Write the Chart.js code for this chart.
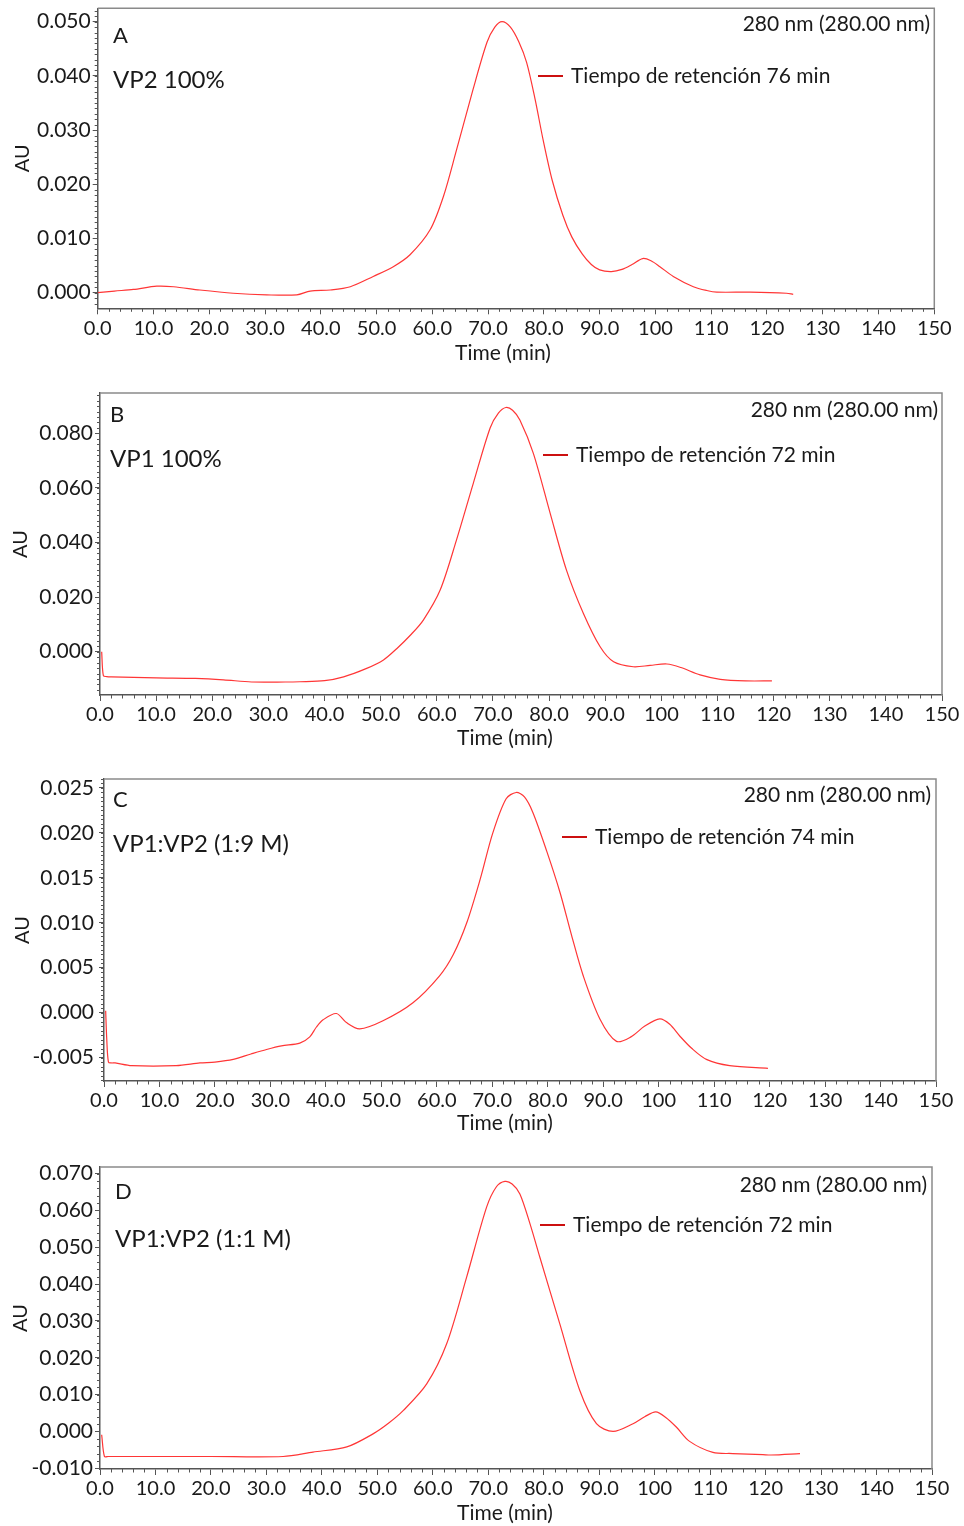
<!DOCTYPE html>
<html>
<head>
<meta charset="utf-8">
<script src="https://cdn.jsdelivr.net/npm/chart.js@4.4.1/dist/chart.umd.min.js"></script>
<style>
  body { margin: 0; background: #fff; width: 964px; height: 1526px; position: relative; overflow: hidden; }
  canvas { position: absolute; left: 0; }
</style>
</head>
<body>
<canvas id="chartA" width="964" height="386" style="top:0px"></canvas>
<canvas id="chartB" width="964" height="386" style="top:386px"></canvas>
<canvas id="chartC" width="964" height="386" style="top:772px"></canvas>
<canvas id="chartD" width="964" height="368" style="top:1158px"></canvas>
<script>
// --- Data (time in min, absorbance in AU, 280 nm) ---
const timeA = [0, 3, 6.4, 10.6, 13.6, 18.3, 24.3, 30.3, 35.7, 38.1, 41.7, 45.3, 49.4, 53, 56, 59.6, 62, 64.3, 67.3, 69.8, 71.2, 72.5, 74, 75.5, 76.9, 78.4, 79.9, 81.5, 83.4, 85, 86.9, 88.5, 90, 92.1, 94, 95.8, 97.7, 99.2, 100.8, 103.2, 106.8, 109.2, 111, 117, 123.5, 124.7];
const auA = [0, 0.0003, 0.0006, 0.0012, 0.0011, 0.0005, -0.0001, -0.0004, -0.0004, 0.0003, 0.0005, 0.0011, 0.0030, 0.0048, 0.0070, 0.0116, 0.0178, 0.0262, 0.0375, 0.0462, 0.0490, 0.0500, 0.0490, 0.0463, 0.0425, 0.0358, 0.0280, 0.0207, 0.0143, 0.0103, 0.0071, 0.0052, 0.0042, 0.0039, 0.0043, 0.0052, 0.0063, 0.0059, 0.0048, 0.0030, 0.0011, 0.0004, 0.0001, 0.0001, -0.0001, -0.0003];

const timeB = [0.3, 0.6, 1.2, 2, 10, 17, 22, 27, 33, 35.6, 40, 43.4, 47.5, 50.5, 52.9, 55.5, 57.6, 60.6, 63.5, 66.5, 69.5, 71, 72.3, 73.5, 74.8, 77.2, 80.2, 83.1, 86.1, 89.1, 91.5, 95, 98, 101, 103.5, 106.9, 110.5, 115, 119.7];
const auB = [0, -0.0088, -0.0091, -0.0092, -0.0096, -0.0098, -0.0103, -0.0111, -0.0111, -0.0110, -0.0106, -0.0092, -0.0061, -0.0030, 0.0012, 0.0065, 0.0116, 0.0226, 0.0409, 0.0617, 0.0820, 0.0875, 0.0895, 0.0885, 0.0849, 0.0727, 0.0507, 0.0299, 0.0141, 0.0018, -0.0037, -0.0055, -0.0050, -0.0045, -0.0058, -0.0085, -0.0101, -0.0107, -0.0107];

const timeC = [0.3, 0.5, 0.8, 1.3, 2, 5, 13, 17.3, 20, 23.3, 26.5, 29.3, 32, 35.3, 37.1, 38.3, 39.5, 41.9, 43.7, 46.1, 50.3, 55.7, 60.5, 63, 65.4, 67.8, 70.1, 72.5, 74.3, 75.8, 77.3, 79.8, 82.2, 84.3, 86.4, 89.4, 92.4, 95, 97.5, 100.2, 102, 103.8, 106, 108.6, 112.8, 119.7];
const auC = [0.0002, -0.0030, -0.0055, -0.0056, -0.0056, -0.0059, -0.0059, -0.0056, -0.0055, -0.0052, -0.0046, -0.0041, -0.0037, -0.0034, -0.0027, -0.0016, -0.0008, -0.0001, -0.0011, -0.0018, -0.0009, 0.0011, 0.0041, 0.0065, 0.0100, 0.0148, 0.0200, 0.0238, 0.0245, 0.0240, 0.0223, 0.0180, 0.0134, 0.0086, 0.0041, -0.0007, -0.0032, -0.0027, -0.0015, -0.0007, -0.0013, -0.0026, -0.0040, -0.0052, -0.0059, -0.0062];

const timeD = [0.3, 0.8, 1.5, 3, 10, 20, 33, 38.4, 44.5, 49.3, 52, 54.7, 58.9, 62.5, 66.1, 69.7, 71.5, 73, 74.3, 75.7, 77.5, 79.3, 82.9, 86.5, 89.5, 92.5, 96.1, 98.2, 100.2, 102, 103.9, 106.3, 110.5, 114.1, 119.5, 121, 126.2];
const auD = [-0.0009, -0.0068, -0.0068, -0.0068, -0.0068, -0.0068, -0.0068, -0.0056, -0.0042, -0.0006, 0.0022, 0.0057, 0.0129, 0.0238, 0.0419, 0.0609, 0.0665, 0.0679, 0.0672, 0.0645, 0.0565, 0.0473, 0.0292, 0.0111, 0.0021, 0.0000, 0.0021, 0.0040, 0.0053, 0.0038, 0.0012, -0.0027, -0.0057, -0.0060, -0.0063, -0.0064, -0.0060];

// --- Tick values and labels ---
const xTicks = [0, 10, 20, 30, 40, 50, 60, 70, 80, 90, 100, 110, 120, 130, 140, 150];
const xTickLabels = ['0.0', '10.0', '20.0', '30.0', '40.0', '50.0', '60.0', '70.0', '80.0', '90.0', '100', '110', '120', '130', '140', '150'];
const yTicksA = [0, 0.01, 0.02, 0.03, 0.04, 0.05];
const yLabelsA = ['0.000', '0.010', '0.020', '0.030', '0.040', '0.050'];
const yTicksB = [0, 0.02, 0.04, 0.06, 0.08];
const yLabelsB = ['0.000', '0.020', '0.040', '0.060', '0.080'];
const yTicksC = [-0.005, 0, 0.005, 0.01, 0.015, 0.02, 0.025];
const yLabelsC = ['-0.005', '0.000', '0.005', '0.010', '0.015', '0.020', '0.025'];
const yTicksD = [-0.01, 0, 0.01, 0.02, 0.03, 0.04, 0.05, 0.06, 0.07];
const yLabelsD = ['-0.010', '0.000', '0.010', '0.020', '0.030', '0.040', '0.050', '0.060', '0.070'];

const FONT = "Lato, 'Open Sans', sans-serif";
const TEXT = '#1a1a1a';
const AXIS = '#555555';

// draws frame, minor ticks, panel texts, x title and the legend entry
const panelDecor = {
    id: 'panelDecor',
    afterDraw(chart, args, o) {
        const { ctx, chartArea: a, scales: { x, y } } = chart;
        ctx.save();
        ctx.strokeStyle = '#8a8a8a';
        ctx.lineWidth = 1.5;
        ctx.beginPath();
        ctx.moveTo(a.left, a.top);
        ctx.lineTo(a.right, a.top);
        ctx.lineTo(a.right, a.bottom);
        ctx.stroke();

        ctx.strokeStyle = AXIS;
        ctx.lineWidth = 1;
        ctx.beginPath();
        for (let t = 0; t <= 150; t += 2) {
            if (t % 10 === 0) continue;
            const px = Math.round(x.getPixelForValue(t)) + 0.5;
            ctx.moveTo(px, a.bottom);
            ctx.lineTo(px, a.bottom + 3.5);
        }
        const n0 = Math.ceil(y.min / o.yMinor), n1 = Math.floor(y.max / o.yMinor);
        for (let n = n0; n <= n1; n++) {
            const py = Math.round(y.getPixelForValue(n * o.yMinor)) + 0.5;
            ctx.moveTo(a.left - 3, py);
            ctx.lineTo(a.left, py);
        }
        ctx.stroke();

        ctx.fillStyle = TEXT;
        ctx.textBaseline = 'alphabetic';
        ctx.textAlign = 'left';
        ctx.font = `22px ${FONT}`;
        ctx.fillText(o.letter[0], o.letter[1], o.letter[2]);
        ctx.font = `24px ${FONT}`;
        ctx.fillText(o.sample[0], o.sample[1], o.sample[2]);
        ctx.font = `21px ${FONT}`;
        ctx.textAlign = 'right';
        ctx.fillText('280 nm (280.00 nm)', o.wave[0], o.wave[1]);

        const ds = chart.data.datasets[0];
        ctx.strokeStyle = '#cc1010';
        ctx.lineWidth = 2;
        ctx.beginPath();
        ctx.moveTo(o.legend[0], o.legend[1]);
        ctx.lineTo(o.legend[0] + 25, o.legend[1]);
        ctx.stroke();
        ctx.textAlign = 'left';
        ctx.fillText(ds.label, o.legend[2], o.legend[3]);

        ctx.font = `21px ${FONT}`;
        ctx.textAlign = 'center';
        ctx.fillText('Time (min)', o.xTitle[0], o.xTitle[1]);
        ctx.restore();
    }
};

function makePanel(p) {
    const canvas = document.getElementById(p.id);
    const a = p.area;
    const points = p.time.map((t, i) => ({ x: t, y: p.au[i] }));
    return new Chart(canvas.getContext('2d'), {
        type: 'line',
        data: {
            datasets: [{
                label: p.legendText,
                data: points,
                borderColor: '#ff3636',
                borderWidth: 1.2,
                pointRadius: 0,
                fill: false,
                tension: 0.3
            }]
        },
        options: {
            responsive: false,
            animation: false,
            events: [],
            layout: { padding: { left: 0, top: a.top - p.top, right: 964 - a.right, bottom: 0 } },
            plugins: {
                legend: { display: false },
                tooltip: { enabled: false },
                panelDecor: p.decor
            },
            scales: {
                x: {
                    type: 'linear',
                    min: 0,
                    max: 150,
                    afterBuildTicks: s => { s.ticks = xTicks.map(v => ({ value: v })); },
                    afterFit: s => {
                        s.height = p.top + canvas.height - a.bottom;
                        s.paddingLeft = 0; s.paddingRight = 0;
                    },
                    ticks: {
                        autoSkip: false,
                        maxRotation: 0,
                        padding: 2,
                        color: TEXT,
                        font: { family: FONT, size: 20 },
                        callback: (v, i) => xTickLabels[i]
                    },
                    grid: { display: true, drawOnChartArea: false, drawTicks: true, tickLength: 6, color: AXIS },
                    border: { display: true, color: AXIS, width: 1.5 }
                },
                y: {
                    type: 'linear',
                    min: p.yMin,
                    max: p.yMax,
                    afterBuildTicks: s => { s.ticks = p.yTicks.map(v => ({ value: v })); },
                    afterFit: s => {
                        s.width = a.left;
                        s.paddingTop = 0; s.paddingBottom = 0;
                    },
                    ticks: {
                        padding: p.yPad,
                        color: TEXT,
                        font: { family: FONT, size: 21 },
                        callback: (v, i) => p.yLabels[i]
                    },
                    grid: { display: true, drawOnChartArea: false, drawTicks: true, tickLength: 5, color: AXIS },
                    border: { display: true, color: AXIS, width: 1.5 },
                    title: {
                        display: true,
                        text: 'AU',
                        color: TEXT,
                        font: { family: FONT, size: 20 },
                        padding: { top: p.auPad, bottom: 0 }
                    }
                }
            }
        },
        plugins: [panelDecor]
    });
}

const panels = [
    {
        id: 'chartA', top: 0, time: timeA, au: auA,
        area: { left: 97.7, top: 8.3, right: 934.3, bottom: 308.3 },
        yMin: -0.00288, yMax: 0.05247, yTicks: yTicksA, yLabels: yLabelsA,
        legendText: 'Tiempo de retención 76 min', yPad: 2, auPad: 11,
        decor: { yMinor: 0.001, letter: ['A', 113, 43], sample: ['VP2 100%', 113, 88], wave: [930, 31], legend: [538, 76, 571, 83], xTitle: [503, 360] }
    },
    {
        id: 'chartB', top: 386, time: timeB, au: auB,
        area: { left: 100, top: 393, right: 942, bottom: 695 },
        yMin: -0.01586, yMax: 0.0948, yTicks: yTicksB, yLabels: yLabelsB,
        legendText: 'Tiempo de retención 72 min', yPad: 2, auPad: 9,
        decor: { yMinor: 0.002, letter: ['B', 110, 422], sample: ['VP1 100%', 110, 467], wave: [938, 417], legend: [543, 455, 576, 462], xTitle: [505, 745] }
    },
    {
        id: 'chartC', top: 772, time: timeC, au: auC,
        area: { left: 104, top: 779, right: 936, bottom: 1081 },
        yMin: -0.00761, yMax: 0.0260, yTicks: yTicksC, yLabels: yLabelsC,
        legendText: 'Tiempo de retención 74 min', yPad: 5, auPad: 11,
        decor: { yMinor: 0.0005, letter: ['C', 113, 807], sample: ['VP1:VP2 (1:9 M)', 113, 852], wave: [931, 802], legend: [562, 837, 595, 844], xTitle: [505, 1130] }
    },
    {
        id: 'chartD', top: 1158, time: timeD, au: auD,
        area: { left: 100, top: 1167, right: 932, bottom: 1469 },
        yMin: -0.0102, yMax: 0.0718, yTicks: yTicksD, yLabels: yLabelsD,
        legendText: 'Tiempo de retención 72 min', yPad: 2, auPad: 9,
        decor: { yMinor: 0.002, letter: ['D', 115, 1199], sample: ['VP1:VP2 (1:1 M)', 115, 1247], wave: [927, 1192], legend: [540, 1225, 573, 1232], xTitle: [505, 1520] }
    }
];

// decor coordinates above are page coordinates; shift them into each canvas
panels.forEach(p => {
    const d = p.decor;
    d.letter[2] -= p.top;
    d.sample[2] -= p.top;
    d.wave[1] -= p.top;
    d.legend[1] -= p.top;
    d.legend[3] -= p.top;
    d.xTitle[1] -= p.top;
    makePanel(p);
});
</script>
</body>
</html>
